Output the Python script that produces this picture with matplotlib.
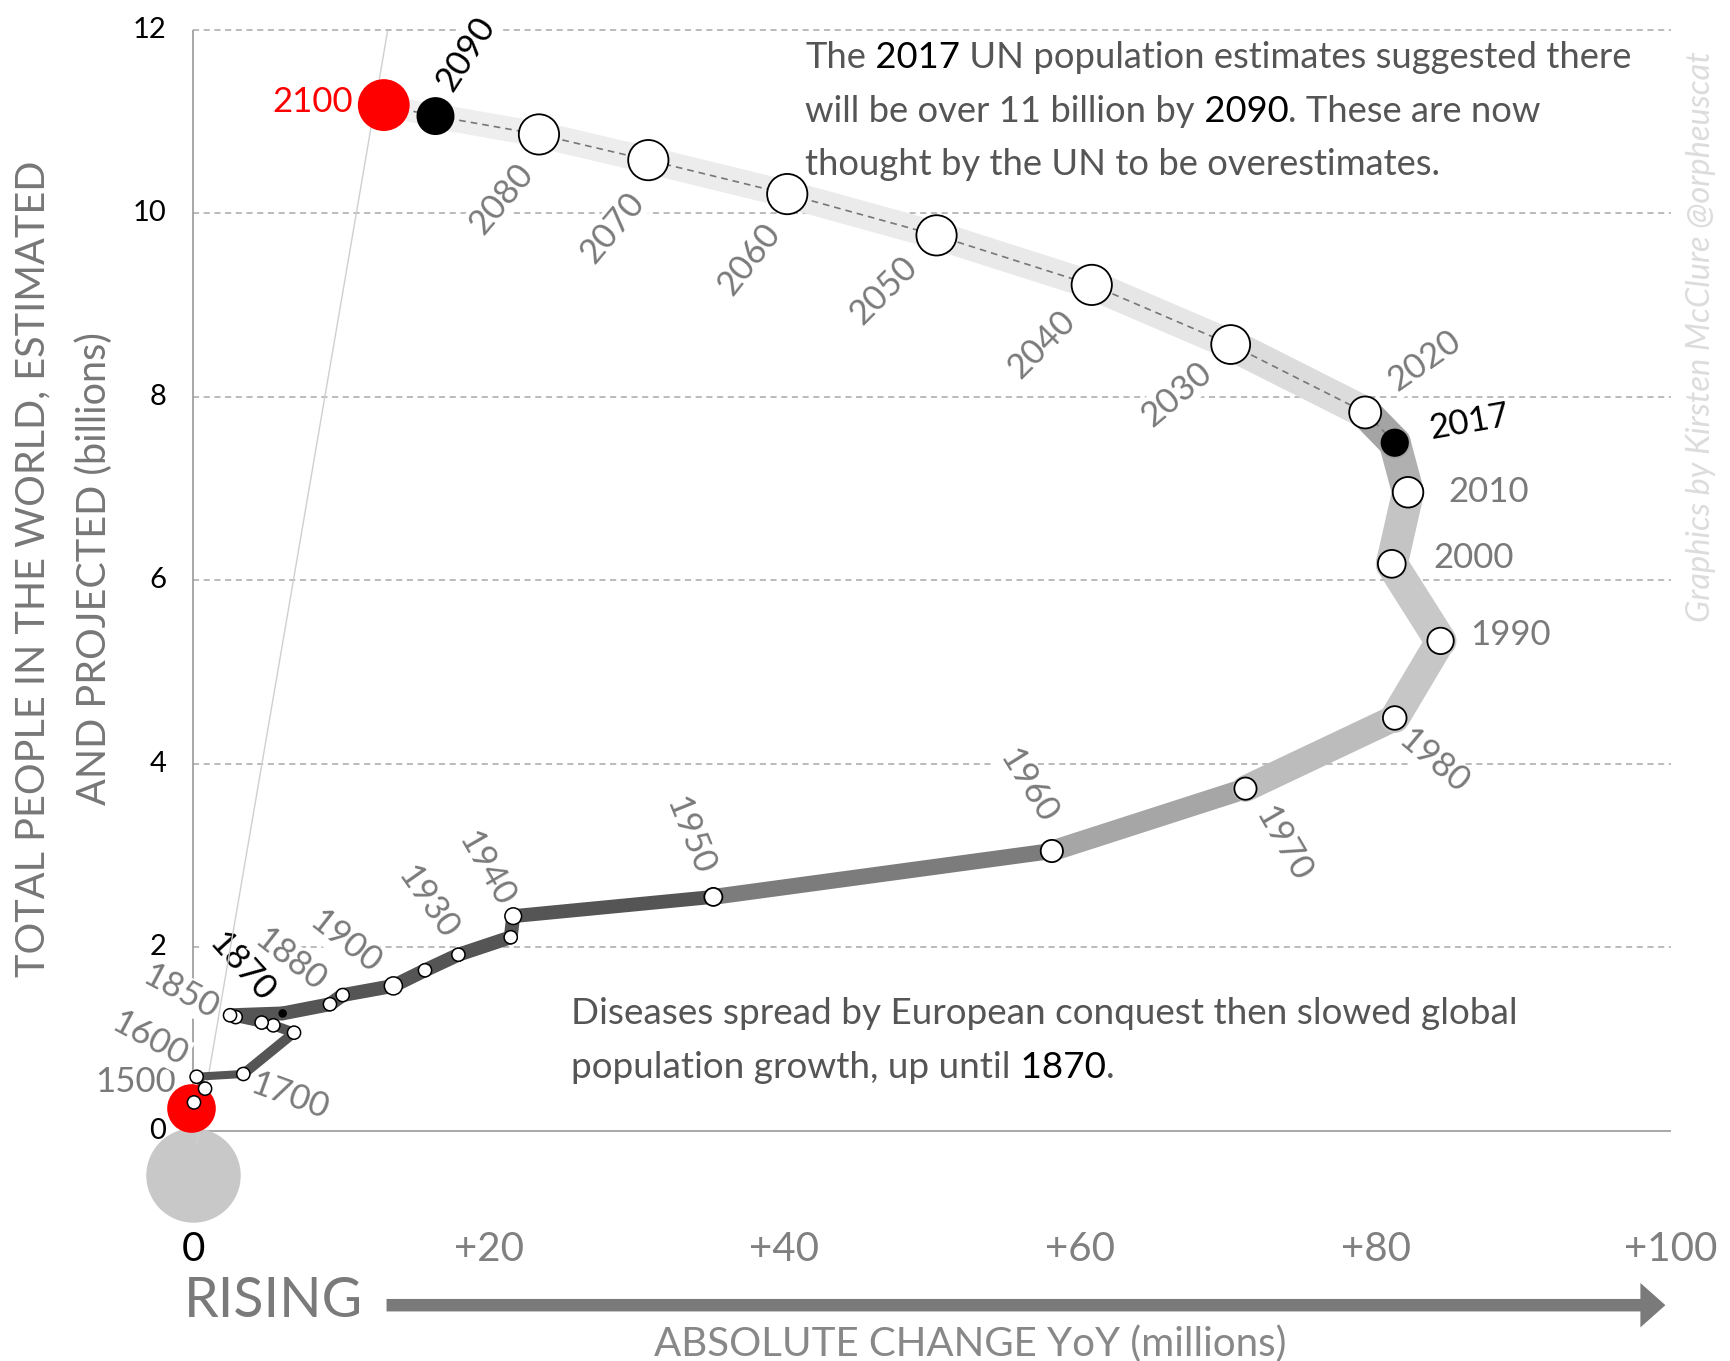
import matplotlib
matplotlib.use("Agg")
import matplotlib.pyplot as plt
from matplotlib.collections import LineCollection
from matplotlib.patches import FancyArrowPatch

plt.rcParams["font.family"] = ["Lato", "DejaVu Sans"]

# ---------------- data ----------------
# x = absolute change per year (millions), y = world population (billions)
start_x, start_y = -0.14, 0.25            # red dot at the start of the path
below_x, below_y = 0.0, -0.48             # grey "falling" disc under the axis

hist_x = [0.06, 0.81, 0.24, 3.40, 6.83, 5.43, 4.64, 2.88, 2.50, 6.06,
          9.26, 10.12, 13.55, 15.69, 17.95, 21.49, 21.66]
hist_y = [0.31, 0.46, 0.59, 0.62, 1.07, 1.15, 1.18, 1.24, 1.26, 1.28,
          1.38, 1.48, 1.58, 1.75, 1.92, 2.11, 2.34]
hist_labels = {1: "1500", 2: "1600", 3: "1700", 8: "1850", 9: "1870",
               11: "1880", 12: "1900", 14: "1930", 16: "1940"}

modern_years = [1950, 1960, 1970, 1980, 1990, 2000, 2010, 2017, 2020,
                2030, 2040, 2050, 2060, 2070, 2080, 2090, 2100]
modern_x = [35.2, 58.1, 71.2, 81.3, 84.4, 81.1, 82.2, 81.3, 79.3,
            70.2, 60.8, 50.3, 40.2, 30.8, 23.4, 16.4, 12.9]
modern_y = [2.55, 3.05, 3.73, 4.50, 5.34, 6.18, 6.96, 7.50, 7.83,
            8.57, 9.22, 9.76, 10.21, 10.58, 10.86, 11.06, 11.18]

guide_x = [0.24, 13.15]
guide_y = [-0.15, 11.98]

y_ticks = [0, 2, 4, 6, 8, 10, 12]
x_ticks = [0, 20, 40, 60, 80, 100]

# ---------------- styles ----------------
GREY_TXT = "#7a7a7a"
PARA = "#555555"
LAB_FS = 25

# band width (pt) and colour for each segment along the path
n_hist = len(hist_x) + 1  # + start point
band_w = [5.8] * 4 + [7.2] * 5 + [10.0] * (n_hist - 9) + \
         [11.5, 15, 19, 21.5, 23, 23, 23, 23, 23, 21.5, 20.5, 20, 19.5, 19, 18, 16]
band_c = ["#555555"] * n_hist + \
         ["#7c7c7c", "#a6a6a6", "#bcbcbc", "#c6c6c6", "#c8c8c8", "#c4c4c4",
          "#b0b0b0", "#a4a4a4", "#dcdcdc", "#e6e6e6", "#e9e9e9", "#ebebeb",
          "#ececec", "#ededed", "#eeeeee", "#f0f0f0"]

modern_size = [13, 16, 16, 17, 19, 20, 22, 19, 23, 28, 29, 29, 29, 29, 29, 26, 36]
hist_size = [9.5] * len(hist_x)
hist_size[12] = 13
hist_size[16] = 12

# label offsets (points) from their dot, plus rotation
hist_lab_style = {
    "1500": (-21, 5, 0, "right"), "1600": (-34, 27, -28, "center"),
    "1700": (33, -16, -20, "center"), "1850": (-36, 17, -28, "center"),
    "1870": (-30, 33, -48, "center"), "1880": (-38, 25, -38, "center"),
    "1900": (-35, 32, -38, "center"), "1930": (-22, 38, -55, "center"),
    "1940": (-20, 34, -60, "center"),
}
modern_lab_style = {
    1950: (-17, 44, -68, "center"), 1960: (-17, 47, -58, "center"),
    1970: (27, -40, -60, "center"), 1980: (28, -31, -40, "center"),
    1990: (21, 4, 0, "left"), 2000: (30, 4, 0, "left"), 2010: (29, 0, 0, "left"),
    2017: (54, 15, 10, "center"), 2020: (43, 37, 35, "center"),
    2030: (-39, -36, 40, "center"), 2040: (-36, -43, 45, "center"),
    2050: (-38, -40, 45, "center"), 2060: (-27, -47, 52, "center"),
    2070: (-26, -49, 50, "center"), 2080: (-27, -46, 50, "center"),
    2090: (22, 45, 57, "center"), 2100: (-22, 2, 0, "right"),
}

fig = plt.figure(figsize=(17.3, 13.61), dpi=100)
ax = fig.add_axes([0.06035, 0.0882, 0.9398, 0.9101])
ax.set_xlim(-6, 104)
ax.set_ylim(-1.2, 12.3)
ax.axis("off")

# grid, axis lines, guide
ax.hlines(y_ticks[1:], 0, 100, colors="#a8a8a8", lw=1.1,
          linestyles=(0, (4, 3)), zorder=0)
ax.hlines(0, 0, 100, colors="#a0a0a0", lw=1.3, zorder=0)
ax.vlines(0, 0, 12, colors="#a0a0a0", lw=1.3, zorder=0)
ax.plot(guide_x, guide_y, color="#cfcfcf", lw=1.0, zorder=2.5)

# the band
path_x = [start_x] + hist_x + modern_x
path_y = [start_y] + hist_y + modern_y
segs = [[(path_x[i], path_y[i]), (path_x[i + 1], path_y[i + 1])]
        for i in range(len(path_x) - 1)]
band = LineCollection(segs, linewidths=band_w[:len(segs)], colors=band_c[:len(segs)],
                      capstyle="round", joinstyle="round", zorder=3)
ax.add_collection(band)

# dashed projection connector
k = modern_years.index(2017)
ax.plot(modern_x[k:], modern_y[k:], color="#777777", lw=1.2,
        ls=(0, (4, 3)), zorder=3.5)

# dots
ax.scatter([below_x], [below_y], s=68 ** 2, color="#c8c8c8", lw=0, zorder=1.5,
           clip_on=False)
ax.scatter([start_x], [start_y], s=35 ** 2, color="#ff0000", lw=0, zorder=4)
h_face = ["white"] * len(hist_x)
h_face[9] = "black"
h_sz = [v ** 2 for v in hist_size]
h_sz[9] = 5 ** 2
ax.scatter(hist_x, hist_y, s=h_sz, facecolor=h_face, edgecolor="black",
           lw=1.1, zorder=5)
m_face = []
for yr in modern_years:
    m_face.append({2017: "black", 2090: "black", 2100: "#ff0000"}.get(yr, "white"))
m_edge = ["#ff0000" if yr == 2100 else "black" for yr in modern_years]
ax.scatter(modern_x, modern_y, s=[v ** 2 for v in modern_size],
           facecolor=m_face, edgecolor=m_edge, lw=1.3, zorder=5)

# year labels
box = dict(boxstyle="square,pad=0.05", fc="white", ec="none")
for i, lab in hist_labels.items():
    dx, dy, rot, ha = hist_lab_style[lab]
    col = "black" if lab == "1870" else GREY_TXT
    ax.annotate(lab, (hist_x[i], hist_y[i]), xytext=(dx, dy),
                textcoords="offset points", ha=ha, va="center", rotation=rot,
                rotation_mode="anchor", fontsize=LAB_FS, color=col, bbox=box, zorder=2)
for yr, x, y in zip(modern_years, modern_x, modern_y):
    dx, dy, rot, ha = modern_lab_style[yr]
    col = {2017: "black", 2090: "black", 2100: "#ff0000"}.get(yr, GREY_TXT)
    ax.annotate(str(yr), (x, y), xytext=(dx, dy), textcoords="offset points",
                ha=ha, va="center", rotation=rot, rotation_mode="anchor",
                fontsize=LAB_FS, color=col, bbox=box, zorder=2)


def rich_line(x, y, pieces, size):
    prev = None
    for txt, col in pieces:
        if prev is None:
            prev = ax.text(x, y, txt, color=col, fontsize=size, ha="left",
                           va="baseline", zorder=6)
        else:
            prev = ax.annotate(txt, xy=(1, 0), xycoords=prev, ha="left",
                               va="bottom", color=col, fontsize=size, zorder=6)


rich_line(41.4, 11.58, [("The", PARA), (" 2017", "black"),
                        (" UN population estimates suggested there", PARA)], 26.2)
rich_line(41.4, 11.00, [("will be over 11 billion by", PARA), (" 2090", "black"),
                        (". These are now", PARA)], 26.2)
rich_line(41.4, 10.42, [("thought by the UN to be overestimates.", PARA)], 26.2)
rich_line(25.6, 1.17, [("Diseases spread by European conquest then slowed global", PARA)], 26.6)
rich_line(25.6, 0.58, [("population growth, up until", PARA), (" 1870", "black"),
                       (".", PARA)], 26.6)

# ticks
for v in y_ticks:
    ax.text(-1.8, v, str(v), ha="right", va="center", fontsize=21, color="black")
for v in x_ticks:
    ax.text(v, -1.29, "0" if v == 0 else f"+{v}", ha="center", va="center",
            fontsize=29, color="black" if v == 0 else "#808080")

# axis titles
ax.text(-10.8, 6.13, "TOTAL PEOPLE IN THE WORLD, ESTIMATED", rotation=90,
        ha="center", va="center", fontsize=28.5, color="#777777")
ax.text(-6.7, 6.13, "AND PROJECTED (billions)", rotation=90,
        ha="center", va="center", fontsize=28.5, color="#777777")
ax.text(5.45, -1.86, "RISING", ha="center", va="center", fontsize=40,
        color="#7a7a7a")
ax.add_patch(FancyArrowPatch((12.9, -1.9), (99.8, -1.9),
                             arrowstyle="simple,head_length=0.9,head_width=1.6,tail_width=0.45",
                             mutation_scale=20, color="#7a7a7a", lw=0, clip_on=False))
ax.text(52.6, -2.32, "ABSOLUTE CHANGE YoY (millions)", ha="center", va="center",
        fontsize=29, color="#888888")

ax.text(102.0, 8.66, "Graphics by Kirsten McClure @orpheuscat", rotation=90,
        ha="center", va="center", fontsize=23.5, style="italic", color="#dcdcdc")

fig.savefig("out.png", dpi=100)
